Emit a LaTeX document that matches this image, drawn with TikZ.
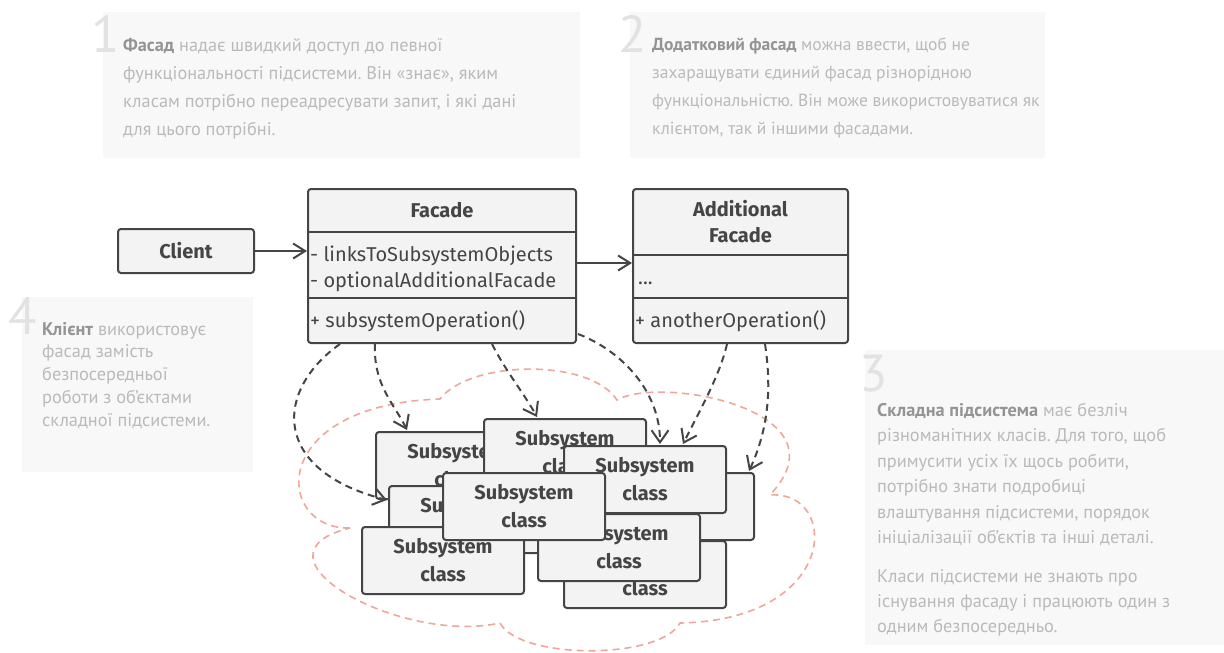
\documentclass[tikz,border=0pt]{standalone}
\usepackage{fontspec}
\setmainfont{Fira Sans}
\newfontfamily\notefont{PT Sans}
\usetikzlibrary{arrows.meta,calc}
\frenchspacing

\definecolor{ink}{HTML}{454545}
\definecolor{boxfill}{HTML}{F3F3F3}
\definecolor{notebgc}{HTML}{F8F8F8}
\definecolor{notetextc}{HTML}{BABABA}
\definecolor{noteboldc}{HTML}{949494}
\definecolor{notenumc}{HTML}{E2E2E2}
\definecolor{cloudc}{HTML}{EDA89A}

\tikzset{
  umlbox/.style={draw=ink, line width=2pt, fill=boxfill, rounded corners=3pt, inner sep=0pt},
  subsys/.style={umlbox, minimum width=162pt, minimum height=67pt, anchor=north west,
    align=center, text=ink, font=\fontsize{20}{28}\selectfont\bfseries},
  divider/.style={draw=ink, line width=2pt},
  member/.style={text=ink, inner sep=0pt, anchor=base west, font=\fontsize{20}{26}\selectfont},
  title/.style={text=ink, inner sep=0pt, align=center, font=\fontsize{20}{26}\selectfont\bfseries},
  assoc/.style={draw=ink, line width=2pt, -{Straight Barb[length=12pt,width=15pt,line width=2pt]}},
  dep/.style={draw=ink, line width=2pt, dash pattern=on 7pt off 5pt,
    -{Straight Barb[length=12pt,width=17pt,line width=2pt]}},
  cloudline/.style={draw=cloudc, line width=1.6pt, dash pattern=on 7pt off 5pt},
  notebg/.style={fill=notebgc},
  notenum/.style={text=notenumc, inner sep=0pt, font=\notefont\fontsize{52}{52}\selectfont},
  notetext/.style={text=notetextc, inner sep=0pt, anchor=north west, align=left,
    font=\notefont\fontsize{18.3}{28}\selectfont},
}
\newcommand{\hl}[1]{\textcolor{noteboldc}{\textbf{#1}}}

\begin{document}
\begin{tikzpicture}[x=1pt, y=-1pt]
\useasboundingbox (0,0) rectangle (1224,653);
\fill[white] (0,0) rectangle (1224,653);

% ---- explanatory notes ----
\fill[notebg] (103,12) rectangle (580,158);
\fill[notebg] (630,12) rectangle (1045,158);
\fill[notebg] (22,297) rectangle (253,472);
\fill[notebg] (865,350) rectangle (1224,645);

\node[notenum] (num1) at (106,34) {1};
\node[notenum] (num2) at (633,34) {2};
\node[notenum] (num4) at (23,316) {4};
\node[notenum] (num3) at (874,374) {3};

\node[notetext] (note1) at (123,38) {\hl{Фасад} надає швидкий доступ до певної\\
функціональності підсистеми. Він «знає», яким\\
класам потрібно переадресувати запит, і які дані\\
для цього потрібні.};

\node[notetext, font=\notefont\fontsize{17.5}{28}\selectfont] (note2) at (652,38) {\hl{Додатковий фасад} можна ввести, щоб не\\
захаращувати єдиний фасад різнорідною\\
функціональністю. Він може використовуватися як\\
клієнтом, так й іншими фасадами.};

\node[notetext, font=\notefont\fontsize{18.3}{22.7}\selectfont] (note4) at (42,322) {\hl{Клієнт} використовує\\
фасад замість\\
безпосередньої\\
роботи з об’єктами\\
складної підсистеми.};

\node[notetext, font=\notefont\fontsize{18.3}{25.4}\selectfont] (note3a) at (877,403) {\hl{Складна підсистема} має безліч\\
різноманітних класів. Для того, щоб\\
примусити усіх їх щось робити,\\
потрібно знати подробиці\\
влаштування підсистеми, порядок\\
ініціалізації об’єктів та інші деталі.};

\node[notetext, font=\notefont\fontsize{18.3}{25.4}\selectfont] (note3b) at (877,569) {Класи підсистеми не знають про\\
існування фасаду і працюють один з\\
одним безпосередньо.};

% ---- subsystem boundary ----
\draw[cloudline] (350,528)
  .. controls (275,530) and (265,405) .. (440,399)
  .. controls (470,360) and (590,358) .. (617,400)
  .. controls (660,375) and (850,410) .. (770,495)
  .. controls (840,490) and (840,620) .. (680,623)
  .. controls (660,660) and (520,660) .. (500,623)
  .. controls (400,645) and (240,555) .. cycle;

% ---- client ----
\node[umlbox, minimum width=136pt, minimum height=44pt, anchor=north west,
  text=ink, font=\fontsize{20}{26}\selectfont\bfseries] (client) at (117,228) {Client};

% ---- facade ----
\node[umlbox, minimum width=268pt, minimum height=154pt, anchor=north west] (facade) at (307,188) {};
\draw[divider] ($(facade.north west)+(0,44)$) -- ($(facade.north east)+(0,44)$);
\draw[divider] ($(facade.north west)+(0,110)$) -- ($(facade.north east)+(0,110)$);
\node[title] (facadeTitle) at ($(facade.north)+(0,22)$) {Facade};
\node[member] (fattr1) at ($(facade.north west)+(3,73)$) {- linksToSubsystemObjects};
\node[member] (fattr2) at ($(facade.north west)+(3,99)$) {- optionalAdditionalFacade};
\node[member] (fop) at ($(facade.north west)+(3,139)$) {+ subsystemOperation()};

% ---- additional facade ----
\node[umlbox, minimum width=215pt, minimum height=154pt, anchor=north west] (af) at (632,188) {};
\draw[divider] ($(af.north west)+(0,67)$) -- ($(af.north east)+(0,67)$);
\draw[divider] ($(af.north west)+(0,110)$) -- ($(af.north east)+(0,110)$);
\node[title] (afTitle) at ($(af.north)+(0,34)$) {Additional\\Facade};
\node[member] (afattr) at ($(af.north west)+(6,96)$) {...};
\node[member] (afop) at ($(af.north west)+(3,139)$) {+ anotherOperation()};

% ---- associations ----
\draw[assoc] (client.east) -- (client.east -| facade.west);
\draw[assoc] ($(facade.north east)+(0,75)$) -- ($(af.north west)+(0,75)$);

% ---- subsystem classes, back to front ----
\node[subsys] (sA) at (375,431) {Subsystem\\class};
\node[subsys] (sB) at (483,418) {Subsystem\\class};
\node[subsys] (sG) at (591,472) {Subsystem\\class};
\node[subsys] (sH) at (563,540) {Subsystem\\class};
\node[subsys] (sC) at (563,445) {Subsystem\\class};
\node[subsys] (sD) at (388,485) {Subsystem\\class};
\node[subsys] (sI) at (537,513) {Subsystem\\class};
\node[subsys] (sE) at (361,526) {Subsystem\\class};
\node[subsys] (sF) at (442,472) {Subsystem\\class};

% ---- dependencies ----
\draw[dep] ($(facade.south west)+(33,0)$) .. controls (275,390) and (270,470) .. ($(sD.north west)+(-1,15)$);
\draw[dep] ($(facade.south west)+(68,0)$) .. controls (373,385) and (395,405) .. ($(sA.north west)+(32,-1)$);
\draw[dep] ($(facade.south west)+(185,0)$) .. controls (505,370) and (525,395) .. ($(sB.north west)+(54,-1)$);
\draw[dep] ($(facade.south east)+(1,-10)$) .. controls (620,350) and (660,390) .. ($(sC.north west)+(97,-1)$);
\draw[dep] ($(af.south west)+(95,0)$) .. controls (720,375) and (700,410) .. ($(sC.north west)+(120,-1)$);
\draw[dep] ($(af.south west)+(133,0)$) .. controls (772,390) and (768,430) .. ($(sG.north east)+(-6,-1)$);
\end{tikzpicture}
\end{document}
